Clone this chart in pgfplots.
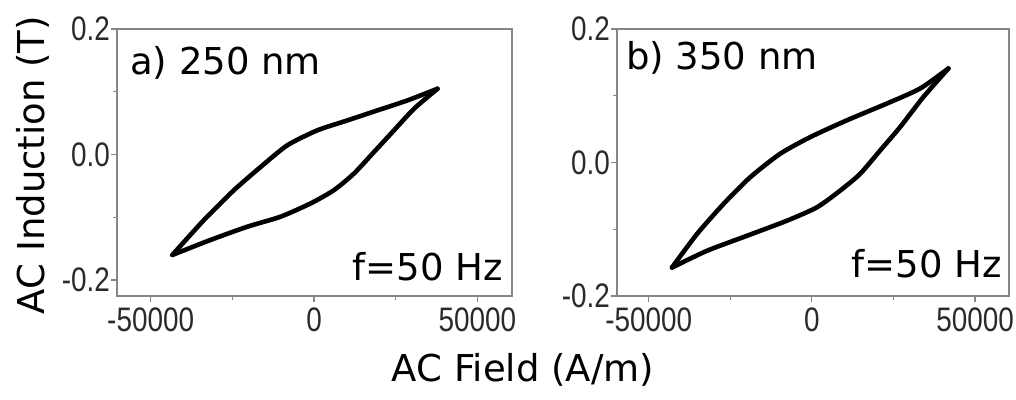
\documentclass[border=0pt]{standalone}
\usepackage{pgfplots}
\pgfplotsset{compat=1.18}
\usepackage{fontspec}
\setmainfont{DejaVu Sans}
\newfontfamily\narrowfont[FakeStretch=0.82]{Liberation Sans}
\definecolor{framegrey}{HTML}{858585}
\definecolor{ticktext}{HTML}{2a2a2a}
\begin{document}
\begin{tikzpicture}[x=1pt,y=1pt]
\useasboundingbox (0pt,0pt) rectangle (1016pt,399pt);
\pgfplotsset{
  panel/.style={
    scale only axis,
    width=395pt, height=267pt,
    axis line style={framegrey, line width=1.5pt},
    every tick/.style={framegrey, line width=1.2pt},
    tick align=outside,
    major tick length=6pt,
    minor tick length=4pt,
    xtick pos=left, ytick pos=left,
    scaled x ticks=false, scaled y ticks=false,
    xtick={-50000,0,50000},
    xticklabels={-50000,0,50000},
    minor xtick={-25000,25000},
    ytick={-0.2,0,0.2},
    yticklabels={-0.2,0.0,0.2},
    minor ytick={-0.1,0.1},
    tick label style={font=\narrowfont\fontsize{34}{34}\selectfont, text=ticktext, inner sep=0pt},
    xticklabel style={yshift=-6pt},
    yticklabel style={xshift=-1pt},
    clip=false,
  },
  loop/.style={black, line width=4.6pt, smooth, tension=0.4, line cap=round, line join=round},
}
\begin{axis}[panel, at={(117pt,103pt)}, anchor=south west,
  xmin=-60300, xmax=60600, ymin=-0.2254, ymax=0.2]
\addplot[loop] coordinates {
(-43360,-0.160) (-33680,-0.1043) (-24490,-0.0567) (-16320,-0.0197) (-8150,0.0148) (1040,0.0386) (10230,0.0544) (19410,0.0703) (28600,0.0862) (37790,0.1048)
};
\addplot[loop] coordinates {
(-43360,-0.160) (-31630,-0.136) (-20400,-0.115) (-10200,-0.099) (-1010,-0.0778) (6120,-0.0567) (12250,-0.0302) (18370,0.0041) (24490,0.0386) (30620,0.0730) (37790,0.1048)
};
\end{axis}
\begin{axis}[panel, at={(617pt,103pt)}, anchor=south west, width=392pt,
  xmin=-59700, xmax=60400, ymin=-0.2, ymax=0.2]
\addplot[loop] coordinates {
(-42870,-0.1574) (-35210,-0.1072) (-27070,-0.0621) (-18890,-0.0221) (-9710,0.0131) (-520,0.0380) (10720,0.0632) (22960,0.0883) (33160,0.1108) (41830,0.1409)
};
\addplot[loop] coordinates {
(-42870,-0.1574) (-32150,-0.1323) (-19900,-0.1098) (-7650,-0.0872) (1530,-0.0672) (8670,-0.0421) (14790,-0.0170) (20910,0.0180) (27040,0.0531) (34170,0.0982) (41830,0.1409)
};
\end{axis}
\begin{scope}[every node/.style={inner sep=0pt, font=\fontsize{37}{40}\selectfont}]
\node[anchor=base west] at (130pt,324pt) {a) 250 nm};
\node[anchor=base east] at (503pt,119pt) {f=50 Hz};
\node[anchor=base west] at (626pt,329pt) {b) 350 nm};
\node[anchor=base east] at (1002pt,122pt) {f=50 Hz};
\node[anchor=base] at (523pt,18pt) {AC Field (A/m)};
\node[anchor=base, rotate=90] at (44pt,234pt) {AC Induction (T)};
\end{scope}
\end{tikzpicture}
\end{document}
